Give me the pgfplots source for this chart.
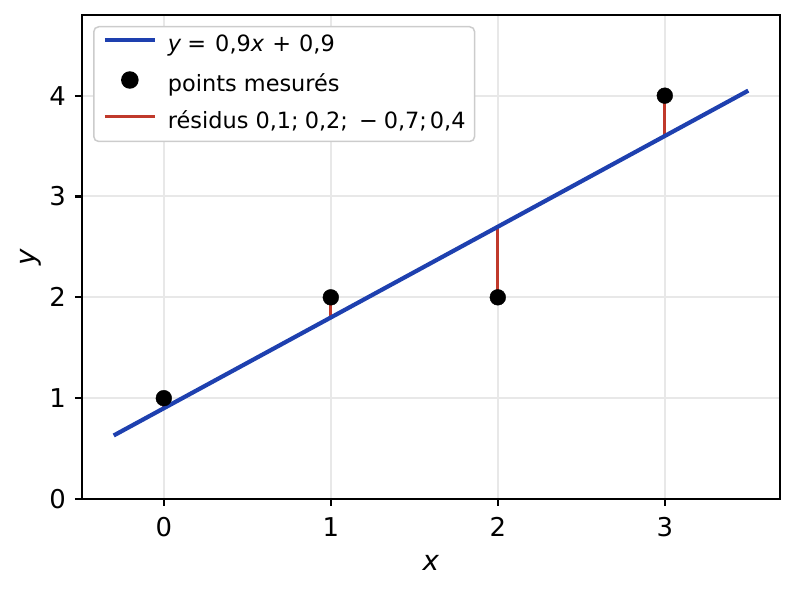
\documentclass[border=0pt]{standalone}
\usepackage{pgfplots}
\pgfplotsset{compat=1.18}
\usepackage{fontspec}
\setmainfont{DejaVu Sans}
\definecolor{myblue}{HTML}{1E40AF}
\definecolor{myred}{HTML}{C0392B}
\begin{document}
\begin{tikzpicture}[x=1bp,y=1bp]
\useasboundingbox (0,0) rectangle (794,592);
\begin{axis}[
  at={(82bp,93bp)}, anchor=south west,
  scale only axis, width=698bp, height=484bp,
  xmin=-0.49, xmax=3.69, ymin=0, ymax=4.8,
  xtick={0,1,2,3}, ytick={0,1,2,3,4},
  xtick pos=bottom, ytick pos=left,
  tick align=outside, major tick length=7bp,
  every tick/.style={line width=2.2bp, black},
  axis line style={line width=2.2bp, black},
  grid=major, grid style={line width=2bp, color=black!9},
  /pgf/number format/assume math mode=true,
  ticklabel style={font=\fontsize{26}{30}\selectfont, inner sep=0bp},
  xticklabel style={anchor=north, yshift=-11bp},
  yticklabel style={anchor=east, xshift=-9bp},
  xlabel={\textit{x}}, ylabel={\textit{y}},
  label style={font=\fontsize{27.8}{32}\selectfont, inner sep=0bp},
  xlabel style={at={(rel axis cs:0.5,-0.1322)}, anchor=center},
  ylabel style={at={(rel axis cs:-0.0731,0.5)}, anchor=center, rotate=0},
  legend cell align=left,
  legend style={at={(rel axis cs:0.01576,0.97727)}, anchor=north west,
    draw=black!20, line width=1.5bp, rounded corners=5bp,
    fill=white,
    font=\fontsize{22.5}{27}\selectfont,
    inner xsep=9bp, inner ysep=8bp, row sep=14.5bp,
    nodes={inner sep=0bp, text height=17bp, text depth=5bp},
    /tikz/every odd column/.append style={column sep=11bp}},
]
\addplot[myred, line width=3.3bp, forget plot] coordinates {(0,0.9) (0,1)};
\addplot[myred, line width=3.3bp, forget plot] coordinates {(1,1.8) (1,2)};
\addplot[myred, line width=3.3bp, forget plot] coordinates {(2,2.7) (2,2)};
\addplot[myred, line width=3.3bp, forget plot] coordinates {(3,3.6) (3,4)};
\addplot[myblue, line width=4.2bp, forget plot] coordinates {(-0.3,0.63) (3.5,4.05)};
\addplot[only marks, mark=*, mark size=7.9bp, black, mark options={line width=0.4bp}, forget plot]
  coordinates {(0,1) (1,2) (2,2) (3,4)};
\addlegendimage{legend image code/.code={\draw[myblue, line width=4.2bp] (0bp,6bp) -- (50bp,6bp);}}
\addlegendentry{\textit{y}\hspace{6bp}=\hspace{9bp}0,9\textit{x}\hspace{8bp}+\hspace{8bp}0,9}
\addlegendimage{legend image code/.code={\fill[black] (25bp,6bp) circle (8bp);}}
\addlegendentry{points mesurés}
\addlegendimage{legend image code/.code={\draw[myred, line width=3.3bp] (0bp,6bp) -- (50bp,6bp);}}
\addlegendentry{résidus 0,1;\hspace{6bp}0,2;\hspace{11bp}−\hspace{6bp}0,7;\hspace{3bp}0,4}
\end{axis}
\end{tikzpicture}
\end{document}
